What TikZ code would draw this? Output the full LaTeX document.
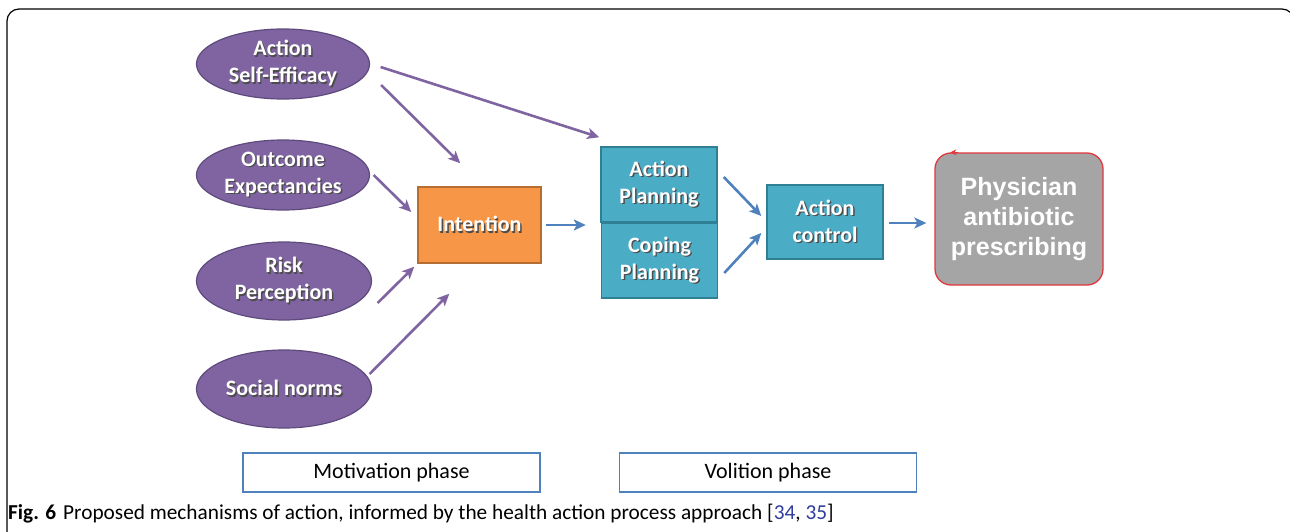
\documentclass[tikz,border=0pt]{standalone}
\usepackage{fontspec}
\setmainfont{Carlito}
\newfontfamily\arialf{Liberation Sans}
\usetikzlibrary{shapes.geometric,arrows.meta,calc}
\definecolor{purp}{HTML}{8064A2}
\definecolor{purpd}{HTML}{5E4A7C}
\definecolor{tealf}{HTML}{4BACC6}
\definecolor{tealb}{HTML}{2F7F95}
\definecolor{orng}{HTML}{F79646}
\definecolor{orngb}{HTML}{B66D31}
\definecolor{arrblue}{HTML}{4F81BD}
\definecolor{gry}{HTML}{A5A5A5}
\definecolor{redb}{HTML}{E2373D}
\definecolor{refblue}{HTML}{2E3D9E}
\newcommand{\shd}[1]{\leavevmode\rlap{\kern1.4pt\raisebox{-1.4pt}{\textcolor{black!70}{#1}}}#1}
\tikzset{
  ell/.style={ellipse, draw=purpd, line width=1.2pt, fill=purp, text=white,
    font=\bfseries\fontsize{22}{27}\selectfont, align=center, inner sep=0pt,
    minimum width=173pt},
  tbox/.style={rectangle, draw=tealb, line width=1.5pt, fill=tealf, text=white,
    font=\bfseries\fontsize{22}{27}\selectfont, align=center, inner sep=0pt,
    minimum width=116pt, minimum height=75pt},
  obox/.style={tbox, draw=orngb, fill=orng, minimum width=123pt, minimum height=76pt},
  pbox/.style={rectangle, rounded corners=16pt, draw=redb, line width=1.3pt, fill=gry,
    text=white, font=\arialf\bfseries\fontsize{25}{30}\selectfont, align=center,
    inner sep=0pt, minimum width=168pt, minimum height=132pt},
  phase/.style={rectangle, draw=arrblue, line width=1.6pt, fill=white,
    font=\fontsize{22}{26}\selectfont, inner sep=0pt, minimum width=297pt,
    minimum height=39pt},
  parr/.style={draw=purp, line width=2.6pt, -{Stealth[length=12pt,width=11pt,inset=3pt]}},
  barr/.style={draw=arrblue, line width=2.6pt, -{Stealth[length=12pt,width=11pt,inset=3pt]}},
}
\begin{document}
\begin{tikzpicture}[x=1pt,y=-1pt]
\useasboundingbox (0,0) rectangle (1290,532);
\clip (0,0) rectangle (1290,532);
\fill[white] (0,0) rectangle (1290,532);
\draw[line width=1.2pt, rounded corners=12pt] (7,9) rectangle (1294,620);

\node[ell, minimum height=70pt] (e1) at (283,64) {\shd{Action}\\\shd{Self-Efficacy}};
\node[ell, minimum height=70pt] (e2) at (283,175) {\shd{Outcome}\\\shd{Expectancies}};
\node[ell, minimum height=78pt, minimum width=175pt] (e3) at (284,281) {\shd{Risk}\\\shd{Perception}};
\node[ell, minimum height=78pt, minimum width=175pt] (e4) at (284,389) {\shd{Social norms}};

\node[obox] (int) at (479.5,225) {\shd{Intention}};
\node[tbox] (ap) at (659,184.5) {\shd{Action}\\\shd{Planning}};
\node[tbox] (cp) at (659.5,260.5) {\shd{Coping}\\\shd{Planning}};
\node[tbox, minimum height=74pt] (ac) at (825,222) {\shd{Action}\\\shd{control}};
\node[pbox] (phys) at (1019,219) {\raisebox{-3pt}{\parbox{160pt}{\centering Physician\\antibiotic\\prescribing}}};
\draw[redb, line width=0.8pt, -{Stealth[length=6pt,width=6pt]}] ($(phys.north west)+(24,0)$) -- ($(phys.north west)+(16,0)$);

\node[phase] (mot) at (391.5,472.5) {Motivation phase};
\node[phase] (vol) at (768,472.5) {Volition phase};

\draw[parr] ($(e1.east)+(10.5,3)$) -- ($(ap.north west)+(-1,-9)$);
\draw[parr] ($(e1.east)+(11,21)$) -- ($(int.north west)+(43,-23)$);
\draw[parr] ($(e2.east)+(3.5,0)$) -- ($(int.west)+(-6,-13)$);
\draw[parr] ($(e3.east)+(5.5,22)$) -- ($(int.south west)+(-3,3)$);
\draw[parr] ($(e4.east)+(-2.5,-15)$) -- ($(int.south west)+(32,30)$);

\draw[barr] ($(int.east)+(4,0)$) -- ($(int.east)+(44,0)$);
\draw[barr] ($(ap.east)+(6,-7.5)$) -- ($(ac.west)+(-5,-6)$);
\draw[barr] ($(cp.east)+(6,12.5)$) -- ($(ac.west)+(-5,11)$);
\draw[barr] ($(ac.east)+(5,1)$) -- ($(phys.west)+(-8,4)$);

\node[anchor=base west, inner sep=0pt, font=\fontsize{21.3}{24}\selectfont] (cap) at (8,519)
  {\textbf{Fig. 6}\hspace{7pt}Proposed mechanisms of action, informed by the health action process approach [\textcolor{refblue}{34}, \textcolor{refblue}{35}]};
\end{tikzpicture}
\end{document}
